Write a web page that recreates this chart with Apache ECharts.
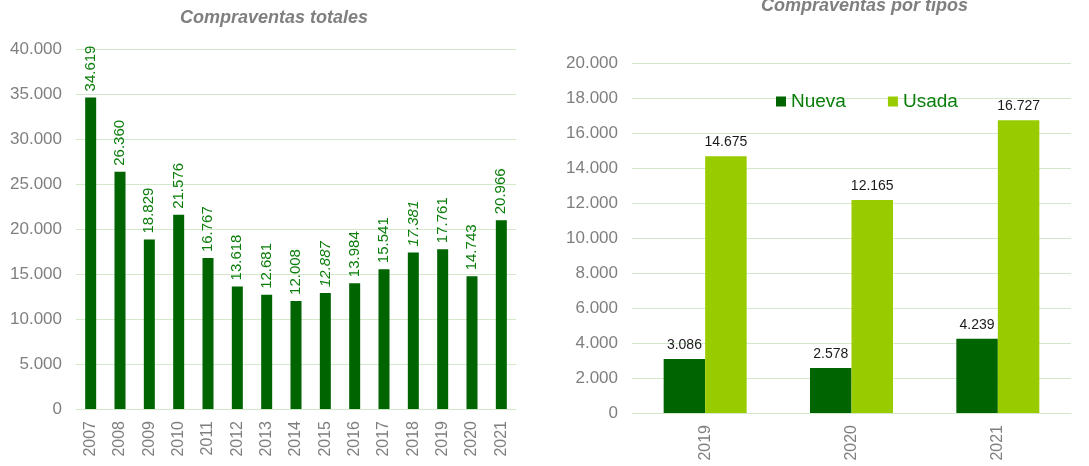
<!DOCTYPE html>
<html lang="es">
<head>
    <meta charset="UTF-8">
    <title>Compraventas</title>
    <style>
        body { margin: 0; }
        #chart { width: 1089px; height: 466px; }
    </style>
</head>
<body>
    <div id="chart"></div>
    <script src="https://cdn.jsdelivr.net/npm/echarts@6/dist/echarts.min.js"></script>
    <script>
        // datos
        const years = ['2007', '2008', '2009', '2010', '2011', '2012', '2013', '2014',
            '2015', '2016', '2017', '2018', '2019', '2020', '2021'];
        const totales = [34619, 26360, 18829, 21576, 16767, 13618, 12681, 12008,
            12887, 13984, 15541, 17381, 17761, 14743, 20966];
        const tipoYears = ['2019', '2020', '2021'];
        const nueva = [3086, 2578, 4239];
        const usada = [14675, 12165, 16727];

        const fmt = v => String(v).replace(/\B(?=(\d{3})+(?!\d))/g, '.');
        const font = 'Liberation Sans, Arial, sans-serif';
        const gridColor = '#d3e8cb';
        const grayText = '#7f7f7f';
        const darkGreen = '#006400';
        const lightGreen = '#99cc00';
        const labelGreen = '#0b7d0b';
        const italicYears = ['2015', '2018'];

        const chart = echarts.init(document.getElementById('chart'));

        function yAxis(gridIndex, max, interval) {
            return {
                gridIndex, type: 'value', min: 0, max, interval,
                axisLine: { show: false },
                axisTick: { show: false },
                axisLabel: { formatter: fmt, color: grayText, fontSize: 17, fontFamily: font, margin: 14 },
                splitLine: { lineStyle: { color: gridColor } }
            };
        }

        function xAxis(gridIndex, data) {
            return {
                gridIndex, type: 'category', data,
                axisLine: { lineStyle: { color: gridColor } },
                axisTick: { show: false },
                axisLabel: { rotate: 90, color: grayText, fontSize: 16, fontFamily: font, margin: 12 }
            };
        }

        const titleStyle = { color: grayText, fontSize: 18, fontWeight: 'bold', fontStyle: 'italic', fontFamily: font };

        const option = {
            animation: false,
            textStyle: { fontFamily: font },
            title: [
                { text: 'Compraventas totales', left: 180, top: 9, padding: 0, textStyle: titleStyle },
                { text: 'Compraventas por tipos', left: 761, top: -3, padding: 0, textStyle: titleStyle }
            ],
            legend: {
                data: ['Nueva', 'Usada'],
                left: 771, top: 87,
                itemWidth: 10, itemHeight: 10, itemGap: 42,
                icon: 'rect',
                textStyle: { color: labelGreen, fontSize: 19, fontFamily: font }
            },
            grid: [
                { left: 76, right: 573, top: 49, bottom: 57 },
                { left: 632, right: 18, top: 63, bottom: 53 }
            ],
            xAxis: [xAxis(0, years), xAxis(1, tipoYears)],
            yAxis: [yAxis(0, 40000, 5000), yAxis(1, 20000, 2000)],
            series: [
                {
                    name: 'Total', type: 'bar', xAxisIndex: 0, yAxisIndex: 0,
                    barWidth: 11,
                    itemStyle: { color: darkGreen },
                    data: totales.map((v, i) => ({
                        value: v,
                        label: { fontStyle: italicYears.includes(years[i]) ? 'italic' : 'normal' }
                    })),
                    label: {
                        show: true, position: 'top', rotate: 90, align: 'left', verticalAlign: 'middle',
                        distance: 6, color: labelGreen, fontSize: 15, formatter: p => fmt(p.value)
                    }
                },
                {
                    name: 'Nueva', type: 'bar', xAxisIndex: 1, yAxisIndex: 1,
                    barWidth: 41.5, barGap: '0%',
                    itemStyle: { color: darkGreen },
                    data: nueva,
                    label: { show: true, position: 'top', distance: 7, color: '#1a1a1a', fontSize: 14, formatter: p => fmt(p.value) }
                },
                {
                    name: 'Usada', type: 'bar', xAxisIndex: 1, yAxisIndex: 1,
                    barWidth: 41.5, barGap: '0%',
                    itemStyle: { color: lightGreen },
                    data: usada,
                    label: { show: true, position: 'top', distance: 7, color: '#1a1a1a', fontSize: 14, formatter: p => fmt(p.value) }
                }
            ]
        };

        chart.setOption(option);
    </script>
</body>
</html>
